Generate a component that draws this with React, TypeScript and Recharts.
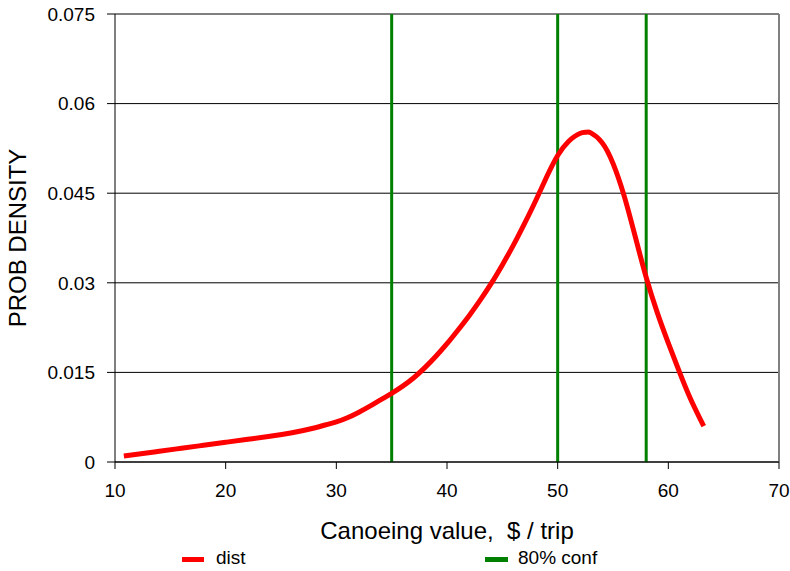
import React from 'react';
import { LineChart, Line, XAxis, YAxis, CartesianGrid, ReferenceLine, Label } from 'recharts';

// values
const xValues = [10.8, 12, 14, 16, 18, 20, 22, 24, 26, 28, 29, 30, 31, 32, 33, 34, 35, 36, 37, 38, 39, 40, 41, 42, 43, 44, 45, 46, 47, 48, 49, 50, 51, 52, 52.6, 53, 54, 55, 56, 57, 58, 59, 60, 61, 62, 63.2];
const densities = [0.001, 0.0013, 0.0018, 0.0023, 0.0028, 0.0033, 0.0038, 0.0043, 0.0049, 0.0057, 0.0062, 0.0067, 0.0074, 0.0083, 0.0093, 0.0104, 0.0115, 0.0127, 0.0141, 0.0158, 0.0177, 0.0198, 0.0221, 0.0245, 0.0271, 0.0299, 0.033, 0.0363, 0.0399, 0.0437, 0.0477, 0.0513, 0.0537, 0.055, 0.0552, 0.0551, 0.0535, 0.05, 0.0446, 0.0378, 0.0309, 0.025, 0.0199, 0.0151, 0.0106, 0.006];
const confBounds = [35, 50, 58];
const xTicks = [10, 20, 30, 40, 50, 60, 70];
const yTicks = [0, 0.015, 0.03, 0.045, 0.06, 0.075];

const FONT = '"Liberation Sans", Arial, sans-serif';
const RED = '#ff0000';
const GREEN = '#008000';

const data = xValues.map((x, i) => ({ x, dist: densities[i] }));

export default function App() {
  return (
    <div style={{ position: 'absolute', left: 0, top: 0, width: 790, height: 571, background: '#fff', fontFamily: FONT }}>
      <LineChart width={790} height={571} data={data} margin={{ top: 14, right: 11, bottom: 79, left: 55 }}>
        <CartesianGrid vertical={false} stroke="#000" strokeWidth={1} />
        <XAxis
          type="number"
          dataKey="x"
          domain={[10, 70]}
          ticks={xTicks}
          height={30}
          stroke="#000"
          tickSize={7}
          tickMargin={15}
          tick={{ fontSize: 19, fill: '#000', fontFamily: FONT }}
        >
          <Label
            content={({ viewBox }: any) => (
              <text
                x={viewBox.x + viewBox.width / 2}
                y={viewBox.y + 77}
                textAnchor="middle"
                fontSize={24}
                fontFamily={FONT}
                fill="#000"
                style={{ whiteSpace: 'pre' }}
              >
                {'Canoeing value,  $ / trip'}
              </text>
            )}
          />
        </XAxis>
        <YAxis
          type="number"
          domain={[0, 0.075]}
          ticks={yTicks}
          width={60}
          stroke="#000"
          tickSize={8}
          tickMargin={12}
          tick={{ fontSize: 19, fill: '#000', fontFamily: FONT }}
          tickFormatter={(v: number) => String(v)}
        >
          <Label
            content={({ viewBox }: any) => {
              const cy = viewBox.y + viewBox.height / 2;
              return (
                <text x={26} y={cy} transform={`rotate(-90 26 ${cy})`} textAnchor="middle" fontSize={24} fontFamily={FONT} fill="#000">
                  PROB DENSITY
                </text>
              );
            }}
          />
        </YAxis>
        <ReferenceLine x={70} stroke="#808080" strokeWidth={2} />
        {confBounds.map((b) => (
          <ReferenceLine key={b} x={b} stroke={GREEN} strokeWidth={3} />
        ))}
        <Line
          type="natural"
          dataKey="dist"
          stroke={RED}
          strokeWidth={5}
          dot={false}
          isAnimationActive={false}
        />
      </LineChart>
      <div style={{ position: 'absolute', left: 182, top: 557, width: 22, height: 5, background: RED }} />
      <div style={{ position: 'absolute', left: 216, top: 547, fontSize: 19, lineHeight: '22px', color: '#000' }}>dist</div>
      <div style={{ position: 'absolute', left: 485, top: 557, width: 23, height: 5, background: GREEN }} />
      <div style={{ position: 'absolute', left: 518, top: 547, fontSize: 19, lineHeight: '22px', color: '#000' }}>80% conf</div>
    </div>
  );
}
